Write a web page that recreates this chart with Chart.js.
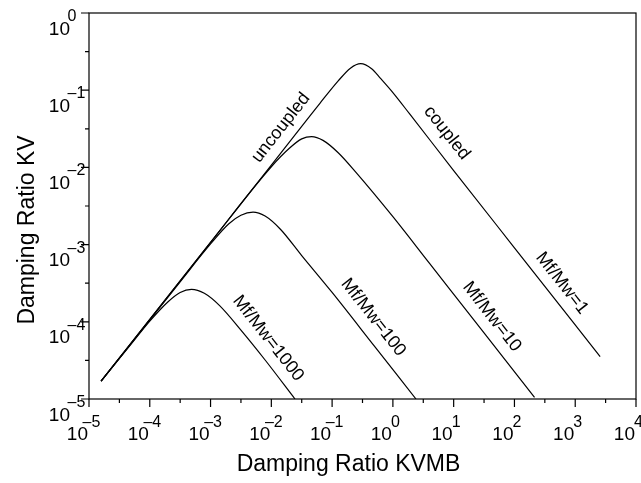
<!DOCTYPE html>
<html>
<head>
<meta charset="utf-8">
<script src="https://cdn.jsdelivr.net/npm/chart.js@4"></script>
<style>
  html, body { margin: 0; padding: 0; background: #fff; }
  #chart { display: block; }
</style>
</head>
<body>
<canvas id="chart" width="641" height="483"></canvas>
<script>
// curves (KVMB on x, KV on y)
const kvmb1 = [1.58e-5, 1e-3, 1e-2, 0.063, 0.126, 0.2, 0.295, 0.447, 0.631, 1, 1.86, 10, 100, 2570];
const kv1 = [1.7e-5, 1.07e-3, 1.07e-2, 0.0676, 0.132, 0.193, 0.221, 0.19, 0.141, 0.093, 0.05, 9.1e-3, 9.1e-4, 3.55e-5];

const kvmb10 = [1.58e-5, 1e-3, 1e-2, 0.02, 0.0316, 0.046, 0.0708, 0.126, 0.251, 1, 3.98, 31.6, 214];
const kv10 = [1.7e-5, 1.07e-3, 1.02e-2, 0.0178, 0.0234, 0.0251, 0.0224, 0.0155, 8.5e-3, 2.3e-3, 5.75e-4, 7.2e-5, 1.05e-5];

const kvmb100 = [1.58e-5, 3.16e-4, 1e-3, 2e-3, 3.16e-3, 5e-3, 7.9e-3, 0.0141, 0.0316, 0.1, 0.5, 2.4];
const kv100 = [1.7e-5, 3.3e-4, 1.02e-3, 1.86e-3, 2.4e-3, 2.63e-3, 2.34e-3, 1.58e-3, 7.2e-4, 2.4e-4, 4.8e-5, 1e-5];

const kvmb1000 = [1.58e-5, 5e-5, 1e-4, 2e-4, 3.16e-4, 4.86e-4, 7.9e-4, 1.41e-3, 3.16e-3, 7.9e-3, 0.0245];
const kv1000 = [1.7e-5, 5.2e-5, 1.02e-4, 1.82e-4, 2.4e-4, 2.63e-4, 2.34e-4, 1.62e-4, 7.8e-5, 3.2e-5, 1e-5];

// decade tick labels (exponents of 10)
const xExps = [-5, -4, -3, -2, -1, 0, 1, 2, 3, 4];
const yExps = [-5, -4, -3, -2, -1, 0];

const xTitle = 'Damping Ratio KVMB';
const yTitle = 'Damping Ratio KV';

// curve labels, anchored in data units
const notes = [
  { text: 'uncoupled', x: 0.0144, y: 0.0326, angle: -51.8 },
  { text: 'coupled', x: 7.7, y: 0.028, angle: 51.8 },
  { text: 'Mf/Mw=1', x: 604, y: 3.16e-4, angle: 51.8 },
  { text: 'Mf/Mw=10', x: 42.5, y: 1.16e-4, angle: 51.8 },
  { text: 'Mf/Mw=100', x: 0.476, y: 1.14e-4, angle: 51.8 },
  { text: 'Mf/Mw=1000', x: 8.87e-3, y: 6.1e-5, angle: 51.8 }
];

const FONT = '"Liberation Sans", Arial, sans-serif';

function pts(xs, ys) {
  return xs.map((v, i) => ({ x: v, y: ys[i] }));
}

function curve(label, xs, ys) {
  return {
    label: label,
    data: pts(xs, ys),
    showLine: true,
    borderColor: '#000',
    borderWidth: 1.2,
    pointRadius: 0,
    cubicInterpolationMode: 'monotone',
    fill: false
  };
}

function expText(e) {
  return e < 0 ? '\u2013' + (-e) : String(e);
}

const decor = {
  id: 'decor',
  afterDraw(chart) {
    const ctx = chart.ctx;
    const a = chart.chartArea;
    const xs = chart.scales.x;
    const ys = chart.scales.y;
    ctx.save();
    ctx.strokeStyle = '#000';
    ctx.fillStyle = '#000';
    ctx.lineWidth = 1.2;
    ctx.strokeRect(a.left, a.top, a.right - a.left, a.bottom - a.top);

    ctx.beginPath();
    xExps.forEach((e, i) => {
      const px = xs.getPixelForValue(Math.pow(10, e));
      ctx.moveTo(px, a.bottom); ctx.lineTo(px, a.bottom + 8);
      if (i < xExps.length - 1) {
        const mx = xs.getPixelForValue(Math.pow(10, e + 0.5));
        ctx.moveTo(mx, a.bottom); ctx.lineTo(mx, a.bottom + 4);
      }
    });
    yExps.forEach((e, i) => {
      const py = ys.getPixelForValue(Math.pow(10, e));
      ctx.moveTo(a.left, py); ctx.lineTo(a.left - 8, py);
      if (i < yExps.length - 1) {
        const my = ys.getPixelForValue(Math.pow(10, e + 0.5));
        ctx.moveTo(a.left, my); ctx.lineTo(a.left - 4, my);
      }
    });
    ctx.stroke();

    // tick labels: 10 with raised exponent
    ctx.textBaseline = 'alphabetic';
    xExps.forEach(e => {
      const px = xs.getPixelForValue(Math.pow(10, e));
      ctx.font = '19px ' + FONT;
      ctx.textAlign = 'right';
      ctx.fillText('10', px - 1, a.bottom + 40.5);
      ctx.font = '16px ' + FONT;
      ctx.textAlign = 'center';
      ctx.fillText(expText(e), px + 2.5, a.bottom + 28);
    });
    yExps.forEach(e => {
      const py = ys.getPixelForValue(Math.pow(10, e));
      ctx.font = '19px ' + FONT;
      ctx.textAlign = 'right';
      ctx.fillText('10', a.left - 19, py + 21.5);
      ctx.font = '16px ' + FONT;
      ctx.textAlign = 'left';
      ctx.fillText(expText(e), a.left - 21.5, py + 8);
    });

    // axis titles
    ctx.font = '23px ' + FONT;
    ctx.textAlign = 'center';
    ctx.fillText(xTitle, 348.5, 471);
    ctx.save();
    ctx.translate(33.5, 230);
    ctx.rotate(-Math.PI / 2);
    ctx.fillText(yTitle, 0, 0);
    ctx.restore();

    // curve labels
    ctx.font = '18px ' + FONT;
    ctx.textBaseline = 'middle';
    notes.forEach(n => {
      ctx.save();
      ctx.translate(xs.getPixelForValue(n.x), ys.getPixelForValue(n.y));
      ctx.rotate(n.angle * Math.PI / 180);
      ctx.fillText(n.text, 0, 0);
      ctx.restore();
    });
    ctx.restore();
  }
};

new Chart(document.getElementById('chart'), {
  type: 'scatter',
  data: {
    datasets: [
      curve('Mf/Mw=1', kvmb1, kv1),
      curve('Mf/Mw=10', kvmb10, kv10),
      curve('Mf/Mw=100', kvmb100, kv100),
      curve('Mf/Mw=1000', kvmb1000, kv1000)
    ]
  },
  options: {
    responsive: false,
    animation: false,
    layout: { padding: { top: 13, right: 5, left: 0, bottom: 0 } },
    plugins: {
      legend: { display: false },
      tooltip: { enabled: false }
    },
    scales: {
      x: {
        type: 'logarithmic',
        min: 1e-5,
        max: 1e4,
        grid: { display: false },
        border: { display: false },
        ticks: { display: false },
        afterFit: s => { s.height = 84; }
      },
      y: {
        type: 'logarithmic',
        min: 1e-5,
        max: 1,
        grid: { display: false },
        border: { display: false },
        ticks: { display: false },
        afterFit: s => { s.width = 89; }
      }
    }
  },
  plugins: [decor]
});
</script>
</body>
</html>
